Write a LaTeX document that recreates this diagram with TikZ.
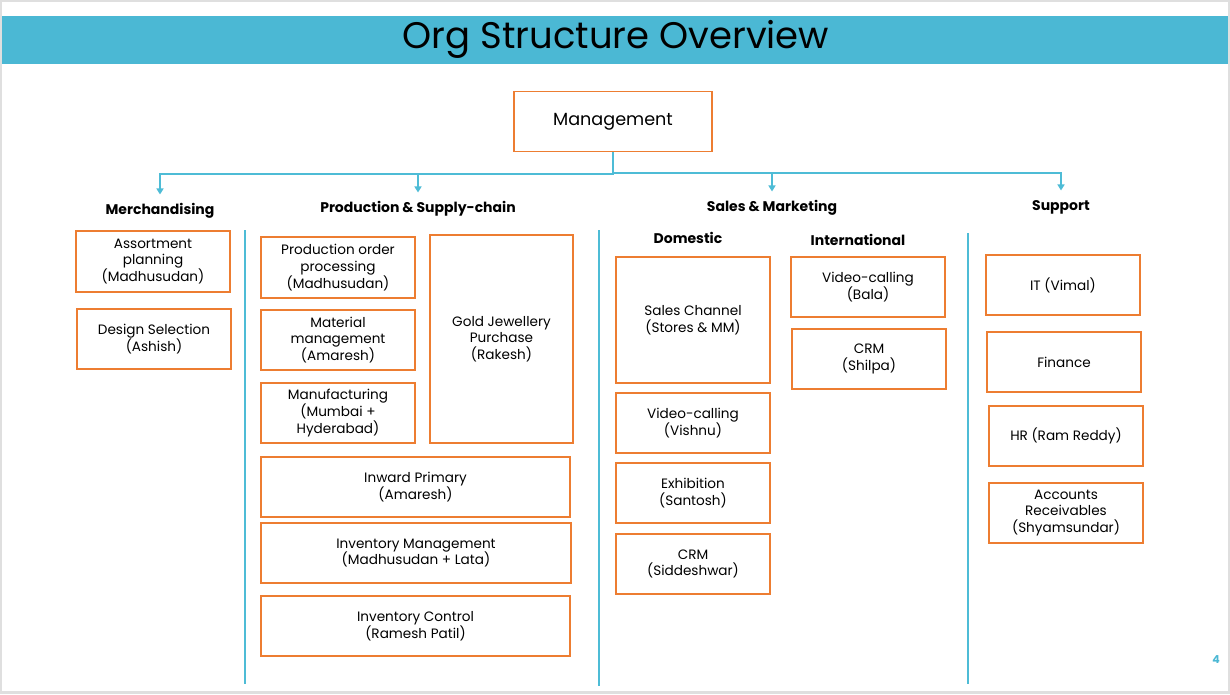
\documentclass[tikz,border=0pt]{standalone}
\usepackage{fontspec}
\setsansfont{Poppins}
\usetikzlibrary{arrows.meta}

\definecolor{barblue}{RGB}{75,184,212}
\definecolor{boxorange}{RGB}{237,125,49}
\definecolor{linkblue}{RGB}{78,188,214}

\begin{document}
\begin{tikzpicture}[
    x=1pt, y=-1pt,
    every node/.style={font=\sffamily},
    >={Stealth[length=6pt, width=7pt, inset=0pt]},
    unit/.style={draw=boxorange, line width=1.1pt, align=center, inner sep=2pt,
        minimum width=154, minimum height=60,
        font=\sffamily\fontsize{13.6}{16.6}\selectfont},
    head/.style={font=\sffamily\bfseries\fontsize{14}{16}\selectfont,
        text height=11pt, text depth=3pt},
    link/.style={draw=linkblue, line width=2pt},
    divider/.style={draw=linkblue, line width=1.3pt},
]

% === Page frame ===
\fill[gray!25] (0, 0) rectangle (1230, 694);
\fill[white] (2, 2) rectangle (1228, 691);
\useasboundingbox (0, 0) rectangle (1230, 694);

% === Title bar ===
\fill[barblue] (2, 16) rectangle (1228, 64);
\node[font=\sffamily\fontsize{37}{40}\selectfont] (title) at (616, 39.5) {Org Structure Overview};

% === Management ===
\node[unit, font=\sffamily\fontsize{17.6}{20}\selectfont, minimum width=198] (mgmt) at (613, 121.5) {Management};

% === Department headings ===
\node[head] (merch) at (160, 210) {Merchandising};
\node[head] (prod) at (418, 208) {Production \& Supply-chain};
\node[head] (sales) at (772, 207) {Sales \& Marketing};
\node[head] (supp) at (1061, 206) {Support};
\node[head] (dom) at (688, 239) {Domestic};
\node[head] (intl) at (858, 241) {International};

% Links from management
\draw[link, ->, shorten >=5pt] (mgmt.south) -- ++(0, 22) -| (merch.north);
\draw[link, ->, shorten >=5pt] (mgmt.south) -- ++(0, 22) -| (prod.north);
\draw[link, ->, shorten >=5pt] (mgmt.south) -- ++(0, 21) -| (sales.north);
\draw[link, ->, shorten >=5pt] (mgmt.south) -- ++(0, 21) -| (supp.north);

% Column dividers
\draw[divider] (245, 230) -- (245, 684);
\draw[divider] (599, 230) -- (599, 686);
\draw[divider] (968, 233) -- (968, 684);

% === Merchandising ===
\node[unit, minimum height=61] (assort) at (153, 261.5) {Assortment\\planning\\(Madhusudan)};
\node[unit] (design) at (154, 339) {Design Selection\\(Ashish)};

% === Production & Supply-chain ===
\node[unit, minimum height=61] (order) at (338, 267.5) {Production order\\processing\\(Madhusudan)};
\node[unit] (material) at (338, 340) {Material\\management\\(Amaresh)};
\node[unit] (manuf) at (338, 413) {Manufacturing\\(Mumbai +\\Hyderabad)};
\node[unit, minimum width=143, minimum height=208] (gold) at (501.5, 339) {Gold Jewellery\\Purchase\\(Rakesh)};
\node[unit, minimum width=309] (inward) at (415.5, 487) {Inward Primary\\(Amaresh)};
\node[unit, minimum width=310] (invmgmt) at (416, 553) {Inventory Management\\(Madhusudan + Lata)};
\node[unit, minimum width=309] (invctrl) at (415.5, 626) {Inventory Control\\(Ramesh Patil)};

% === Sales & Marketing ===
% Domestic
\node[unit, minimum height=126] (channel) at (693, 320) {Sales Channel\\(Stores \& MM)};
\node[unit] (vishnu) at (693, 423) {Video-calling\\(Vishnu)};
\node[unit] (exhib) at (693, 493) {Exhibition\\(Santosh)};
\node[unit] (crmdom) at (693, 564) {CRM\\(Siddeshwar)};
% International
\node[unit] (bala) at (868, 287) {Video-calling\\(Bala)};
\node[unit] (crmint) at (869, 359) {CRM\\(Shilpa)};

% === Support ===
\node[unit] (it) at (1063, 285) {IT (Vimal)};
\node[unit] (fin) at (1064, 362) {Finance};
\node[unit] (hr) at (1066, 436) {HR (Ram Reddy)};
\node[unit] (accrec) at (1066, 513) {Accounts\\Receivables\\(Shyamsundar)};

% Page number
\node[font=\sffamily\bfseries\fontsize{11}{12}\selectfont, text=barblue] (pageno) at (1216, 660) {4};

\end{tikzpicture}
\end{document}
